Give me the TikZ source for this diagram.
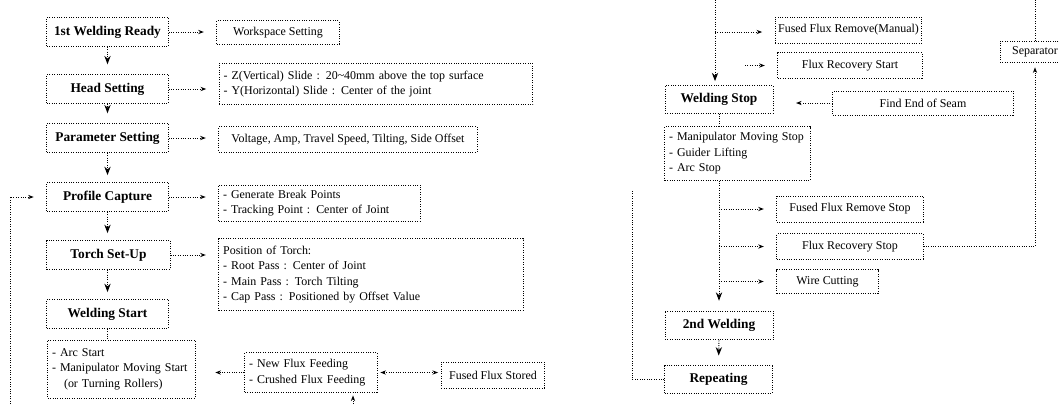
\documentclass[tikz,border=0pt]{standalone}
\usepackage{fontspec}
\setmainfont{Liberation Serif}
\usetikzlibrary{arrows.meta,positioning}

\begin{document}
\begin{tikzpicture}[
    x=0.025cm, y=-0.025cm,
    dots/.style={line width=0.7pt, dash pattern=on 0.7pt off 1pt},
    mainbox/.style={draw, dots, align=center, inner sep=2pt,
                    font=\bfseries\fontsize{9.5}{11}\selectfont,
                    minimum width=3.03cm, minimum height=0.72cm},
    infobox/.style={draw, dots, align=center, inner sep=2pt,
                    font=\fontsize{8.5}{11}\selectfont},
    listbox/.style={infobox, align=left, inner xsep=3pt},
    flow/.style={dots, -{Stealth[length=6pt,width=4.5pt]}, shorten >=2pt},
    side/.style={dots, -{Stealth[length=4pt,width=3pt]}, shorten >=9pt},
    link/.style={dots}
  ]
    \useasboundingbox (0,0) rectangle (1059,404);

    % welding preparation column
    \node[mainbox] (ready) at (107.5,32) {1st Welding Ready};
    \node[mainbox] (head) at (107.5,89) {Head Setting};
    \node[mainbox] (param) at (107.5,138) {Parameter Setting};
    \node[mainbox] (prof) at (107.5,197) {Profile Capture};
    \node[mainbox, minimum width=3.08cm] (torch) at (108.5,255) {Torch Set-Up};
    \node[mainbox] (wstart) at (107.5,314) {Welding Start};
    \node[listbox, text width=3.47cm, minimum height=1.45cm] (arcs) at (121.5,369)
      {- Arc Start\\- Manipulator Moving Start\\\hspace*{1em}(or Turning Rollers)};

    \node[infobox, minimum width=3.05cm, minimum height=0.58cm] (work) at (278,32.5) {Workspace Setting};
    \node[listbox, text width=7.62cm, minimum height=1.03cm] (headinfo) at (376,84)
      {- Z(Vertical) Slide : 20\textasciitilde40mm above the top surface\\- Y(Horizontal) Slide : Center of the joint};
    \node[infobox, minimum width=6.45cm, minimum height=0.63cm] (paraminfo) at (348,139.5)
      {Voltage, Amp, Travel Speed, Tilting, Side Offset};
    \node[listbox, text width=4.82cm, minimum height=0.9cm] (profinfo) at (319.5,203)
      {- Generate Break Points\\- Tracking Point : Center of Joint};
    \node[listbox, text width=7.39cm, minimum height=1.78cm] (torchinfo) at (371,274.5)
      {Position of Torch:\\- Root Pass : Center of Joint\\- Main Pass : Torch Tilting\\- Cap Pass : Positioned by Offset Value};
    \node[listbox, text width=3.09cm, minimum height=0.98cm] (feed) at (311,372.5)
      {- New Flux Feeding\\- Crushed Flux Feeding};
    \node[infobox, minimum width=2.58cm, minimum height=0.65cm] (stored) at (493,375) {Fused Flux Stored};

    % welding end column
    \node[mainbox, minimum width=2.7cm, minimum height=0.68cm] (stop) at (719,99.5) {Welding Stop};
    \node[listbox, text width=3.42cm, minimum height=1.33cm] (stoplist) at (737.5,153.5)
      {- Manipulator Moving Stop\\- Guider Lifting\\- Arc Stop};
    \node[mainbox, minimum width=2.7cm] (weld2) at (719,325.5) {2nd Welding};
    \node[mainbox, minimum width=2.68cm, minimum height=0.68cm] (rep) at (718.5,379.5) {Repeating};

    \node[infobox, minimum width=3.58cm, minimum height=0.65cm] (fluxrm) at (848.5,30) {Fused Flux Remove(Manual)};
    \node[infobox, minimum width=3.6cm, minimum height=0.63cm] (recstart) at (850,65.5) {Flux Recovery Start};
    \node[infobox, minimum width=4.5cm, minimum height=0.6cm] (seam) at (923,103) {Find End of Seam};
    \node[infobox, minimum width=1.75cm, minimum height=0.53cm] (sep) at (1035,52) {Separator};
    \node[infobox, minimum width=3.65cm, minimum height=0.65cm] (rmstop) at (850,209) {Fused Flux Remove Stop};
    \node[infobox, minimum width=3.65cm, minimum height=0.63cm] (recstop) at (850,246.5) {Flux Recovery Stop};
    \node[infobox, minimum width=2.53cm, minimum height=0.58cm] (cut) at (827.5,281.5) {Wire Cutting};

    \coordinate (loopL) at (10,404);
    \coordinate (feedin) at (353,404);
    \coordinate (topR) at (715,0);
    \coordinate (br1) at (715,32);
    \coordinate (br2) at (745,65.5);
    \coordinate (loopR) at (632,190);

    % left connectors
    \draw[flow, shorten >=7pt] (ready.south) -- (head.north);
    \draw[flow, shorten >=7pt] (head.south) -- (param.north);
    \draw[flow, shorten >=5pt] (param.south) -- (prof.north);
    \draw[flow, shorten >=5pt] (prof.south) -- (prof.south |- torch.north);
    \draw[flow, shorten >=5pt] (torch.south -| wstart.north) -- (wstart.north);
    \draw[link] (wstart.south) -- (wstart.south |- arcs.north);
    \draw[side] (ready.east) -- (work.west |- ready.east);
    \draw[side] (head.east) -- (headinfo.west |- head.east);
    \draw[side] (param.east) -- (paraminfo.west |- param.east);
    \draw[side] (prof.east) -- (profinfo.west |- prof.east);
    \draw[side] (torch.east) -- (torchinfo.west |- torch.east);
    \draw[side, shorten >=14pt] (feed.west) -- (arcs.east |- feed.west);
    \draw[dots, {Stealth[length=4pt,width=3pt]}-{Stealth[length=4pt,width=3pt]}, shorten <=2pt, shorten >=2pt]
      (feed.east) -- (stored.west |- feed.east);
    \draw[side, shorten >=2pt] (feedin) -- (feedin |- feed.south);
    \draw[side] (loopL) |- (prof.west);

    % right connectors
    \draw[flow, shorten >=3pt] (topR) -- (topR |- stop.north);
    \draw[side] (br1) -- (fluxrm.west |- br1);
    \draw[side] (br2) -- (recstart.west);
    \draw[side, shorten >=16pt] (seam.west) -- (stop.east |- seam.west);
    \draw[link] (stop.south) -- (stop.south |- stoplist.north);
    \draw[flow, shorten >=7pt] (stop.south |- stoplist.south) -- (weld2.north);
    \draw[side] (stop.south |- rmstop.west) -- (rmstop.west);
    \draw[side] (stop.south |- recstop.west) -- (recstop.west);
    \draw[side] (stop.south |- cut.west) -- (cut.west);
    \draw[flow, shorten >=7pt] (weld2.south) -- (rep.north);
    \draw[side, shorten >=3pt] (recstop.east) -| (sep.south);
    \draw[link] (sep.north) -- (sep.north |- topR);
    \draw[link] (rep.west) -| (loopR);
  \end{tikzpicture}
\end{document}
